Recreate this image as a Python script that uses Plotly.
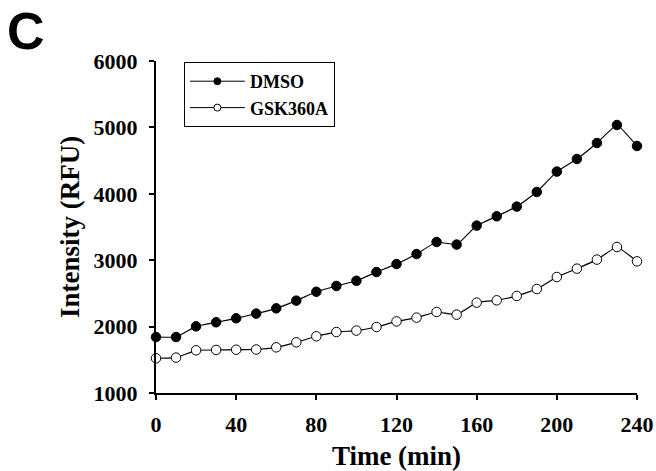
import plotly.graph_objects as go

time_min = [0, 10, 20, 30, 40, 50, 60, 70, 80, 90, 100, 110, 120, 130, 140, 150,
            160, 170, 180, 190, 200, 210, 220, 230, 240]
dmso = [1843, 1843, 2004, 2065, 2125, 2196, 2275, 2391, 2525, 2612, 2690, 2822, 2942,
        3093, 3274, 3235, 3521, 3661, 3807, 4027, 4334, 4524, 4765, 5036, 4720]
gsk360a = [1523, 1533, 1643, 1648, 1652, 1655, 1688, 1763, 1854, 1918, 1940, 1994, 2078,
           2135, 2220, 2180, 2361, 2396, 2461, 2566, 2747, 2873, 3009, 3199, 2983]
series_names = ["DMSO", "GSK360A"]
x_ticks = [0, 40, 80, 120, 160, 200, 240]
y_ticks = [1000, 2000, 3000, 4000, 5000, 6000]

serif = "Liberation Serif, Times New Roman, serif"

fig = go.Figure()
fig.add_trace(go.Scatter(x=time_min, y=dmso, mode="lines+markers", name=series_names[0],
                         line=dict(color="black", width=1.2, shape="spline", smoothing=0.3),
                         marker=dict(symbol="circle", size=9.5, color="black",
                                     line=dict(color="black", width=1)),
                         cliponaxis=False, showlegend=False))
fig.add_trace(go.Scatter(x=time_min, y=gsk360a, mode="lines+markers", name=series_names[1],
                         line=dict(color="black", width=1.2, shape="spline", smoothing=0.3),
                         marker=dict(symbol="circle", size=9.5, color="white",
                                     line=dict(color="black", width=1)),
                         cliponaxis=False, showlegend=False))
# legend entries (smaller markers like the reference legend)
fig.add_trace(go.Scatter(x=[None], y=[None], mode="lines+markers", name=series_names[0],
                         line=dict(color="black", width=1),
                         marker=dict(symbol="circle", size=7, color="black",
                                     line=dict(color="black", width=1))))
fig.add_trace(go.Scatter(x=[None], y=[None], mode="lines+markers", name=series_names[1],
                         line=dict(color="black", width=1),
                         marker=dict(symbol="circle", size=7, color="white",
                                     line=dict(color="black", width=1))))

fig.update_layout(
    width=656, height=471,
    margin=dict(l=156, r=19, t=61, b=78),
    paper_bgcolor="white", plot_bgcolor="white",
    font=dict(family=serif, color="black", size=17),
    legend=dict(x=0.058, y=0.997, xanchor="left", yanchor="top",
                bordercolor="black", borderwidth=1, bgcolor="white",
                font=dict(family=serif, size=18, color="black", weight="bold"),
                tracegroupgap=0, itemwidth=55),
    xaxis=dict(range=[0, 240], tickvals=x_ticks, ticktext=[str(v) for v in x_ticks],
               showline=True, linecolor="black", linewidth=2, ticks="outside",
               ticklen=5, tickwidth=2, tickcolor="black", showgrid=False, zeroline=False,
               ticklabelstandoff=6, automargin=False,
               tickfont=dict(family=serif, size=22, color="black", weight="bold"),
               title=dict(text="Time (min)", font=dict(family=serif, size=27, weight="bold"),
                          standoff=10)),
    yaxis=dict(range=[1000, 6000], tickvals=y_ticks, ticktext=[str(v) for v in y_ticks],
               showline=True, linecolor="black", linewidth=2, ticks="outside",
               ticklen=5, tickwidth=2, tickcolor="black", showgrid=False, zeroline=False,
               ticklabelstandoff=7, automargin=False,
               tickfont=dict(family=serif, size=22, color="black", weight="bold"),
               title=dict(text="Intensity (RFU)", font=dict(family=serif, size=27, weight="bold"),
                          standoff=6)),
)

fig.add_annotation(text="<b>C</b>", xref="paper", yref="paper", x=-0.314, y=1.185,
                   xanchor="left", yanchor="top", showarrow=False,
                   font=dict(family="Liberation Sans, Arial, sans-serif", size=52, color="black"))

fig.write_html("out.html")
